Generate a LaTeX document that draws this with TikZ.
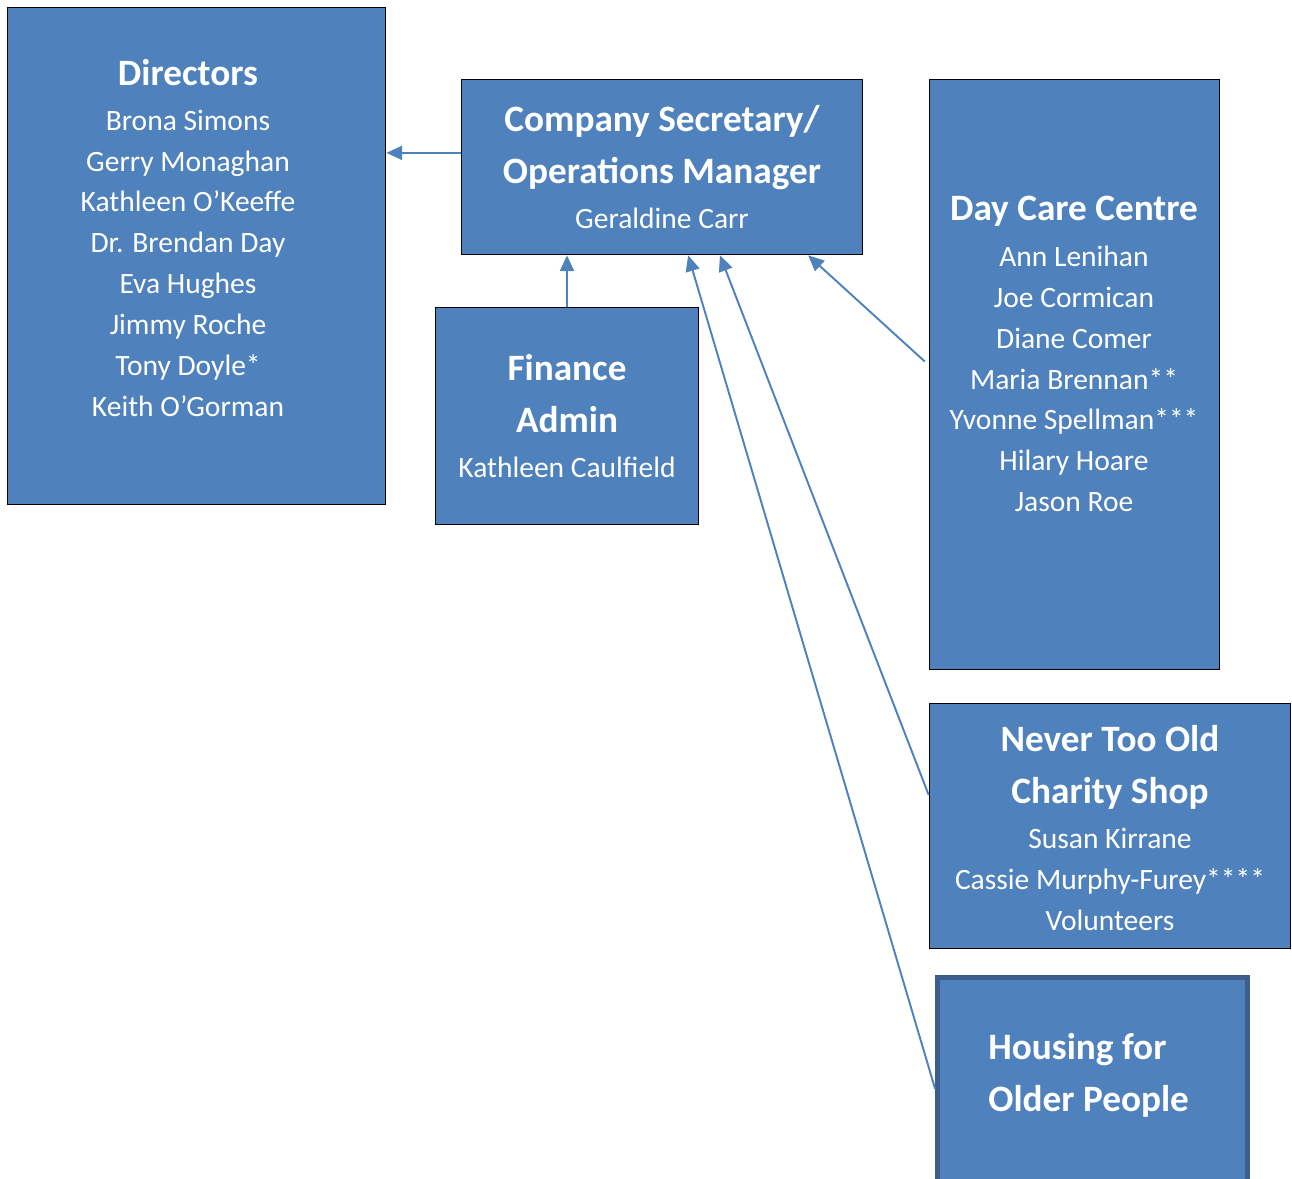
\documentclass[tikz,border=0pt]{standalone}
\usepackage{fontspec}
\setmainfont{Carlito}
\usetikzlibrary{calc,arrows.meta}
\definecolor{boxblue}{HTML}{4F81BD}
\definecolor{edgeblue}{HTML}{3B5E8C}
\newcommand{\hd}{\fontsize{21.2}{29.6}\selectfont\bfseries}

\begin{document}
\begin{tikzpicture}[x=0.02cm, y=-0.02cm,
    box/.style={rectangle, draw=black, line width=1pt, fill=boxblue, inner sep=0pt},
    txt/.style={text=white, align=center, inner sep=0pt, font=\fontsize{16.8}{23.3}\selectfont},
    link/.style={->, draw=boxblue, line width=1.1pt},
    >={Triangle[length=9pt,width=8pt]}]
  \useasboundingbox (0,0) rectangle (1292,1178);

  \node[box, minimum width=7.56cm, minimum height=9.94cm] (D) at (196.5,256) {};
  \node[box, minimum width=8.02cm, minimum height=3.5cm] (S) at (662,167) {};
  \node[box, minimum width=5.26cm, minimum height=4.34cm] (F) at (567,416) {};
  \node[box, minimum width=5.8cm, minimum height=11.8cm] (C) at (1074.5,374.5) {};
  \node[box, minimum width=7.22cm, minimum height=4.9cm] (N) at (1110,826) {};
  \node[box, draw=edgeblue, line width=2.8pt, minimum width=6.2cm, minimum height=4.45cm] (H) at (1092.5,1088.75) {};

  \node[txt] (Dt) at (188,238) {{\hd Directors}\\[2.2pt] Brona Simons\\ Gerry Monaghan\\
    Kathleen O’Keeffe\\ Dr. Brendan Day\\ Eva Hughes\\ Jimmy Roche\\ Tony Doyle*\\ Keith O’Gorman};
  \node[txt] (St) at (662,167) {{\hd Company Secretary/}\\[6.3pt] {\hd Operations Manager}\\[1.8pt] Geraldine Carr};
  \node[txt] (Ft) at (567,416) {{\hd Finance}\\[6.3pt] {\hd Admin}\\[2.2pt] Kathleen Caulfield};
  \node[txt] (Ct) at (1074,354) {{\hd Day Care Centre}\\[2.8pt] Ann Lenihan\\ Joe Cormican\\ Diane Comer\\
    Maria Brennan**\\ Yvonne Spellman***\\ Hilary Hoare\\ Jason Roe};
  \node[txt] (Nt) at (1110,828) {{\hd Never Too Old}\\[6.3pt] {\hd Charity Shop}\\[2.2pt] Susan Kirrane\\
    Cassie Murphy-Furey****\\ Volunteers};
  \node[txt, font=\hd, align=left, anchor=west] (Ht) at (988,1075) {Housing for\\ Older People};

  \draw[link] ($(S.south west)!0.58!(S.north west)$) coordinate (s1) -- (s1 -| D.east);
  \draw[link] (F.north) -- (F.north |- S.south);
  \draw[link, shorten <=3pt] ($(C.north west)!0.484!(C.south west)$) -- ($(S.south west)!0.863!(S.south east)$);
  \draw[link] ($(N.north west)!0.374!(N.south west)$) -- ($(S.south west)!0.644!(S.south east)$);
  \draw[link] (H.west) -- ($(S.south west)!0.565!(S.south east)$);
\end{tikzpicture}
\end{document}
